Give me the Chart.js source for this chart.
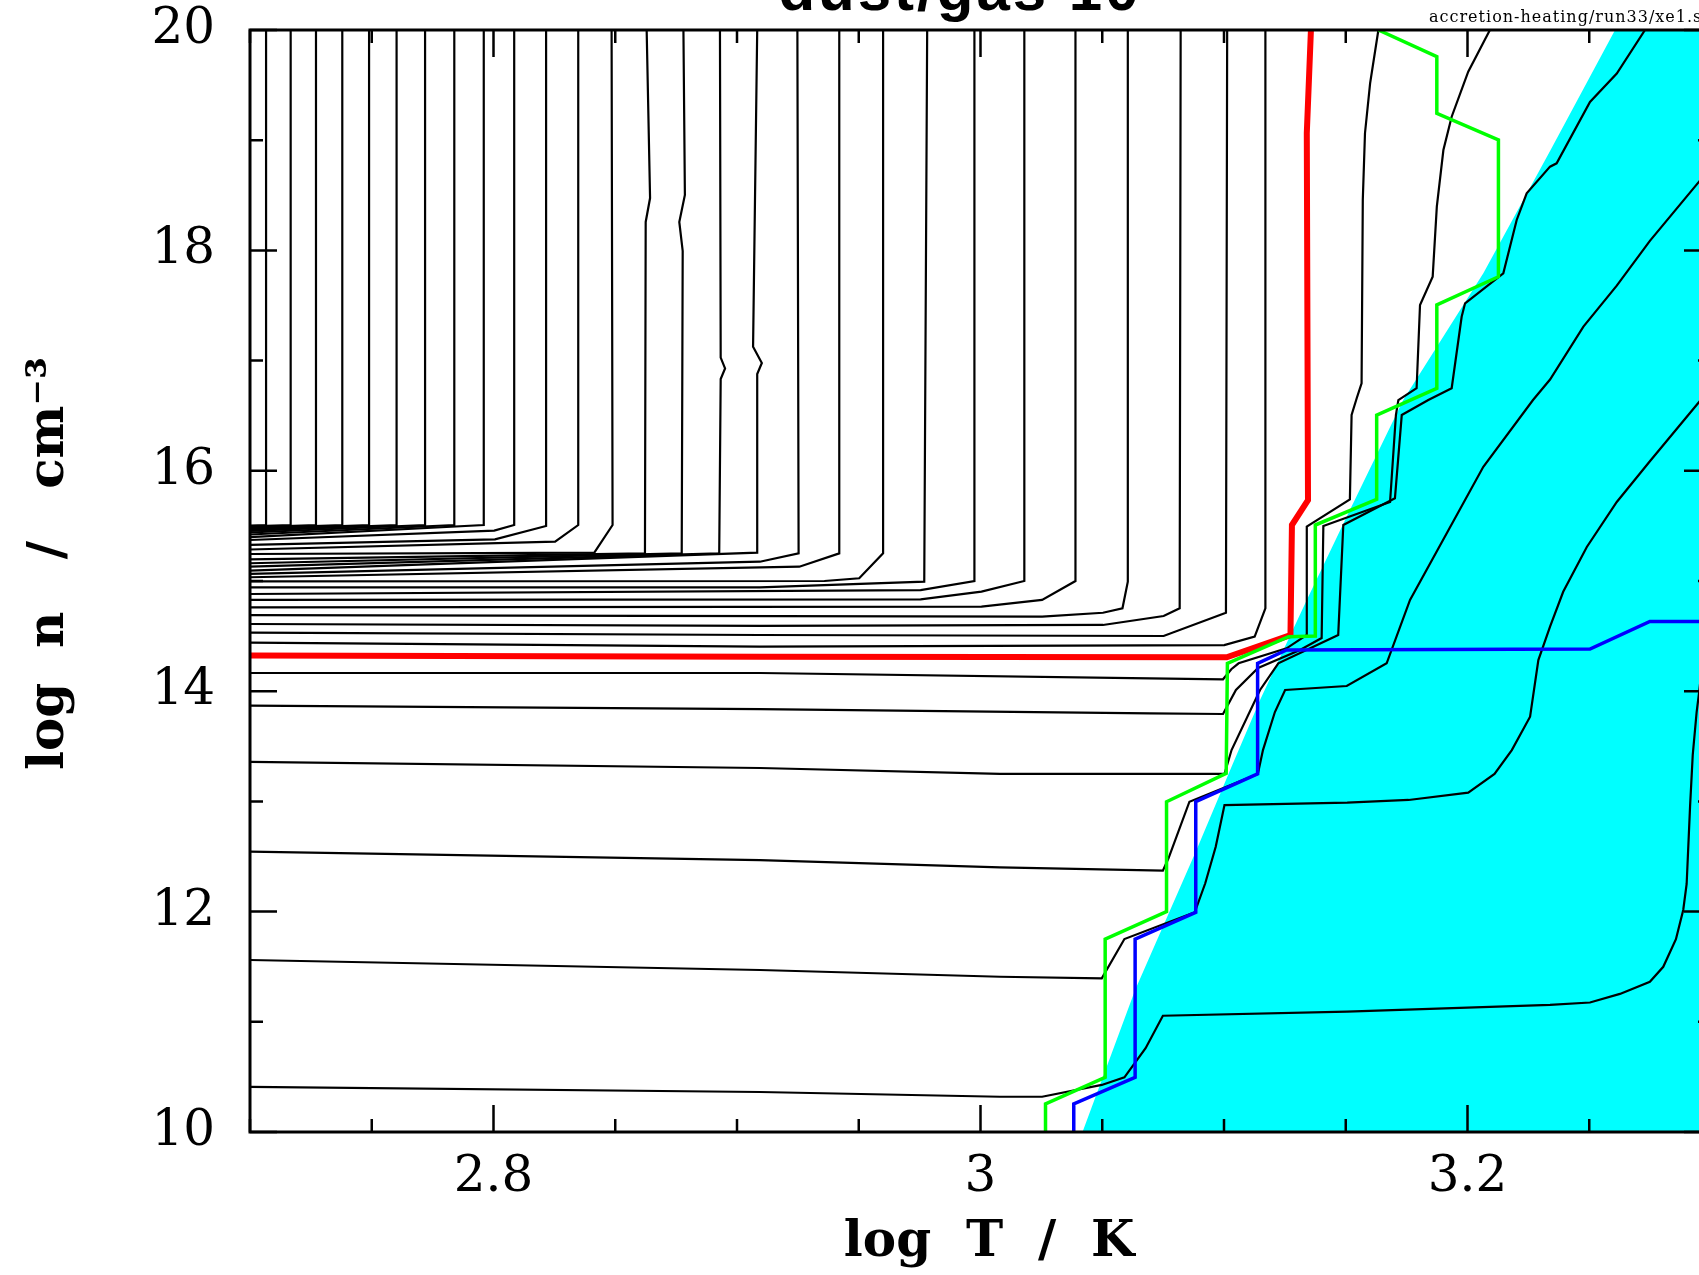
<!DOCTYPE html>
<html>
<head>
<meta charset="utf-8">
<title>dust/gas 10</title>
<script src="https://cdn.jsdelivr.net/npm/chart.js@4.4.1/dist/chart.umd.min.js"></script>
<style>
  html, body { margin: 0; padding: 0; background: #fff; overflow: hidden; }
  #wrap { width: 1699px; height: 1275px; overflow: hidden; position: relative; }
  #chart { position: absolute; left: 0; top: 0; }
</style>
</head>
<body>
<div id="wrap"><canvas id="chart" width="1760" height="1275"></canvas></div>
<script>
// axes
const xRange = [2.7, 3.3];
const yRange = [10, 20];
const xMinorStep = 0.05;
const yMinorStep = 1;
const xLabelTicks = [2.8, 3, 3.2];
const yLabelTicks = [10, 12, 14, 16, 18, 20];
const titleText = 'dust/gas 10';
const fileText = 'accretion-heating/run33/xe1.sm';
const xTitle = ' log  T  /  K';
const yTitle = '  log  n   /   cm\u207B\u00B3';

// black contours that come down from the top and bend to the left edge  [log T, log n]
const upperContours = [
  [[2.7066, 20], [2.7066, 15.508], [2.7, 15.503]],
  [[2.7167, 20], [2.7167, 15.508], [2.7, 15.496]],
  [[2.7271, 20], [2.7271, 15.508], [2.7, 15.487]],
  [[2.7379, 20], [2.7379, 15.508], [2.7, 15.478]],
  [[2.7489, 20], [2.7489, 15.508], [2.7, 15.467]],
  [[2.7602, 20], [2.7602, 15.508], [2.7, 15.454]],
  [[2.7719, 20], [2.7719, 15.508], [2.7, 15.440]],
  [[2.7839, 20], [2.7839, 15.508], [2.7, 15.422]],
  [[2.7960, 20], [2.7960, 15.508], [2.7, 15.399]],
  [[2.8085, 20], [2.8085, 15.508], [2.8003, 15.457], [2.7, 15.372]],
  [[2.8216, 20], [2.8216, 15.499], [2.8006, 15.378], [2.7, 15.327]],
  [[2.8348, 20], [2.8348, 15.508], [2.8253, 15.357], [2.7, 15.286]],
  [[2.8485, 20], [2.8489, 15.508], [2.8414, 15.257], [2.7, 15.245]],
  [[2.8629, 20], [2.8643, 18.475], [2.8625, 18.258], [2.8622, 15.251], [2.7, 15.197]],
  [[2.8780, 20], [2.8786, 18.503], [2.8763, 18.258], [2.8777, 17.995], [2.8773, 15.251], [2.7, 15.161]],
  [[2.8930, 20], [2.8933, 17.027], [2.8951, 16.929], [2.8933, 16.833], [2.8927, 15.251], [2.7, 15.130]],
  [[2.9083, 20], [2.9066, 17.126], [2.9102, 16.978], [2.9083, 16.878], [2.9083, 15.257], [2.7, 15.094]],
  [[2.9248, 20], [2.9253, 15.251], [2.9094, 15.175], [2.7, 15.064]],
  [[2.9420, 20], [2.9420, 15.251], [2.9256, 15.130], [2.7, 15.034]],
  [[2.9600, 20], [2.9600, 15.251], [2.9502, 15.025], [2.9359, 15.000], [2.7, 14.997]],
  [[2.9781, 20], [2.9769, 14.994], [2.9094, 14.943], [2.7, 14.943]],
  [[2.9975, 20], [2.9975, 15.000], [2.9754, 14.918], [2.7, 14.882]],
  [[3.0180, 20], [3.0180, 15.000], [3.0004, 14.903], [2.9754, 14.834], [2.7, 14.828]],
  [[3.0390, 20], [3.0390, 15.000], [3.0253, 14.828], [3.0004, 14.767], [2.7, 14.761]],
  [[3.0605, 20], [3.0605, 14.994], [3.0583, 14.752], [3.0503, 14.712], [3.0253, 14.676], [2.7, 14.691]],
  [[3.0822, 20], [3.0818, 14.752], [3.0752, 14.682], [3.0503, 14.601], [2.9094, 14.592], [2.7, 14.610]],
  [[3.1013, 20], [3.1008, 14.712], [3.0752, 14.501], [2.9094, 14.510], [2.7, 14.531]],
  [[3.1170, 20], [3.1170, 14.752], [3.1126, 14.495], [3.1001, 14.419], [2.9094, 14.404], [2.7, 14.440]]
];

// thick red contour
const redContour = [[3.1357, 20], [3.1340, 19.065], [3.1345, 15.735], [3.1279, 15.508], [3.1273, 14.510],
  [3.1011, 14.308], [2.9094, 14.313], [2.7, 14.323]];

// black contours below the red one, rising through the cyan zone
const lowerContours = [
  [[2.7, 14.165], [2.9094, 14.165], [3.0696, 14.117], [3.0996, 14.108], [3.1030, 14.199], [3.1060, 14.253],
   [3.1257, 14.389], [3.1340, 14.510], [3.1340, 15.493], [3.1517, 15.741], [3.1524, 16.506], [3.1545, 16.658],
   [3.1565, 16.794], [3.1570, 18.457], [3.1579, 19.063], [3.1600, 19.516], [3.1634, 20]],
  [[2.7, 13.870], [2.9094, 13.838], [3.0696, 13.799], [3.0996, 13.793], [3.1049, 14.011], [3.1140, 14.211],
   [3.1312, 14.374], [3.1401, 14.483], [3.1408, 15.499], [3.1682, 15.717], [3.1706, 16.506], [3.1716, 16.642],
   [3.1791, 16.749], [3.1805, 17.505], [3.1857, 17.761], [3.1874, 18.397], [3.1901, 18.911], [3.1935, 19.213],
   [3.2003, 19.622], [3.2092, 20]],
  [[2.7, 13.358], [2.9094, 13.303], [3.0080, 13.249], [3.1002, 13.249], [3.1031, 13.466], [3.1148, 14.011],
   [3.1223, 14.253], [3.1469, 14.510], [3.1490, 15.508], [3.1702, 15.750], [3.1730, 16.506], [3.1839, 16.642],
   [3.1935, 16.749], [3.1976, 17.398], [3.1990, 17.520], [3.2147, 17.792], [3.2202, 18.276], [3.2243, 18.518],
   [3.2339, 18.760], [3.2366, 18.790], [3.2503, 19.347], [3.2613, 19.605], [3.2729, 20]],
  [[2.7, 12.544], [2.9094, 12.468], [3.0080, 12.402], [3.0749, 12.371], [3.0772, 12.484], [3.0858, 12.997],
   [3.1139, 13.249], [3.1160, 13.466], [3.1209, 13.811], [3.1251, 14.011], [3.1504, 14.047], [3.1668, 14.253],
   [3.1764, 14.828], [3.2065, 16.037], [3.2269, 16.642], [3.2339, 16.828], [3.2476, 17.309], [3.2613, 17.680],
   [3.2749, 18.087], [3.2951, 18.624], [3.3, 18.757]],
  [[2.7, 11.561], [2.9094, 11.470], [3.0080, 11.409], [3.0498, 11.395], [3.0591, 11.751], [3.0880, 11.994],
   [3.0923, 12.257], [3.0966, 12.589], [3.1002, 12.967], [3.1506, 12.988], [3.1758, 13.013], [3.2003, 13.079],
   [3.2111, 13.249], [3.2182, 13.466], [3.2257, 13.769], [3.2291, 14.283], [3.2339, 14.585], [3.2393, 14.902],
   [3.2490, 15.309], [3.2613, 15.717], [3.2749, 16.087], [3.2951, 16.624], [3.3, 16.751]],
  [[2.7, 10.409], [2.9094, 10.363], [3.0080, 10.320], [3.0253, 10.320], [3.0498, 10.427], [3.0591, 10.496],
   [3.0678, 10.760], [3.0749, 11.055], [3.1505, 11.092], [3.2339, 11.153], [3.2503, 11.175], [3.2626, 11.253],
   [3.2749, 11.363], [3.2804, 11.499], [3.2856, 11.750], [3.2886, 12.015], [3.2900, 12.251], [3.2914, 12.953],
   [3.2925, 13.421], [3.2941, 13.811], [3.2951, 13.987], [3.2975, 14.465]]
];

// green and blue staircases
const greenStep = [[3.0267, 10], [3.0267, 10.254], [3.0512, 10.496], [3.0512, 11.751], [3.0764, 11.999],
  [3.0764, 12.997], [3.1009, 13.255], [3.1014, 14.253], [3.1265, 14.495], [3.1375, 14.501], [3.1375, 15.508],
  [3.1627, 15.741], [3.1627, 16.506], [3.1874, 16.749], [3.1874, 17.505], [3.2127, 17.761], [3.2127, 19.002],
  [3.1874, 19.244], [3.1874, 19.758], [3.1634, 20]];
const blueStep = [[3.0383, 10], [3.0383, 10.254], [3.0635, 10.496], [3.0635, 11.751], [3.0884, 11.994],
  [3.0884, 12.997], [3.1138, 13.249], [3.1138, 14.253], [3.1257, 14.374], [3.2503, 14.383], [3.2749, 14.633],
  [3.3, 14.633]];

// left edge of the cyan region (filled down to the bottom axis)
const cyanEdge = [[3.0419, 10], [3.0635, 11.289], [3.0887, 12.559], [3.1031, 13.315], [3.1148, 13.920],
  [3.1340, 14.828], [3.1517, 15.644], [3.1736, 16.642], [3.2065, 17.792], [3.2339, 18.902], [3.2606, 20], [3.3, 20]];

function lineSet(data, color, width, order) {
  return { data, borderColor: color, borderWidth: width, pointRadius: 0, tension: 0, fill: false, order };
}

function labelFor(v, list) {
  const hit = list.find(t => Math.abs(t - v) < 1e-6);
  return hit === undefined ? '' : String(hit);
}

const datasets = [];
datasets.push({ data: cyanEdge, borderWidth: 0, borderColor: 'rgba(0,0,0,0)', backgroundColor: '#00ffff',
  fill: 'start', pointRadius: 0, tension: 0, order: 3 });
upperContours.forEach(c => datasets.push(lineSet(c, '#000000', 2.2, 2)));
lowerContours.forEach(c => datasets.push(lineSet(c, '#000000', 2.2, 2)));
datasets.push(lineSet(redContour, '#ff0000', 6, 1));
datasets.push(lineSet(greenStep, '#00ff00', 3.5, 0));
datasets.push(lineSet(blueStep, '#0000ff', 3.5, 0));

// frame, inward ticks and the texts above the plot
const frameTicks = {
  id: 'frameTicks',
  afterDraw(chart) {
    const { ctx, chartArea: a, scales } = chart;
    ctx.save();
    ctx.strokeStyle = '#000';
    ctx.lineWidth = 2.5;
    ctx.beginPath();
    scales.x.ticks.forEach(t => {
      const p = scales.x.getPixelForValue(t.value);
      const len = t.label ? 27 : 13;
      ctx.moveTo(p, a.bottom); ctx.lineTo(p, a.bottom - len);
      ctx.moveTo(p, a.top); ctx.lineTo(p, a.top + len);
    });
    scales.y.ticks.forEach(t => {
      const p = scales.y.getPixelForValue(t.value);
      const len = t.label ? 27 : 13;
      ctx.moveTo(a.left, p); ctx.lineTo(a.left + len, p);
      ctx.moveTo(a.right, p); ctx.lineTo(a.right - len, p);
    });
    ctx.stroke();
    ctx.lineWidth = 3;
    ctx.strokeRect(a.left, a.top, a.right - a.left, a.bottom - a.top);

    ctx.fillStyle = '#000';
    ctx.textBaseline = 'alphabetic';
    ctx.textAlign = 'center';
    ctx.font = 'bold 60px "Liberation Sans"';
    ctx.letterSpacing = '3px';
    ctx.fillText(titleText, 960, 10);
    ctx.textAlign = 'left';
    ctx.font = '16px "DejaVu Serif"';
    ctx.letterSpacing = '1px';
    ctx.fillText(fileText, 1429, 22);
    ctx.letterSpacing = '0px';
    ctx.restore();
  }
};

new Chart(document.getElementById('chart'), {
  type: 'line',
  data: { datasets },
  options: {
    responsive: false,
    animation: false,
    events: [],
    layout: { padding: { top: 30, right: 49, bottom: 0, left: 0 } },
    plugins: { legend: { display: false }, tooltip: { enabled: false }, title: { display: false } },
    scales: {
      x: {
        type: 'linear', min: xRange[0], max: xRange[1],
        grid: { display: false, drawTicks: false, tickLength: 0 },
        border: { display: false },
        ticks: {
          stepSize: xMinorStep, autoSkip: false, maxRotation: 0, padding: 16, color: '#000',
          font: { family: 'DejaVu Serif', size: 50, lineHeight: 1.2 },
          callback: v => labelFor(v, xLabelTicks)
        },
        title: {
          display: true, text: xTitle, color: '#000',
          font: { family: 'DejaVu Serif', size: 50, weight: 'bold', lineHeight: 1.2 },
          padding: { top: 0, bottom: 2 }
        },
        afterFit: s => { s.height = 143; s.paddingLeft = 0; s.paddingRight = 0; }
      },
      y: {
        type: 'linear', min: yRange[0], max: yRange[1],
        grid: { display: false, drawTicks: false, tickLength: 0 },
        border: { display: false },
        ticks: {
          stepSize: yMinorStep, autoSkip: false, padding: 35, color: '#000',
          font: { family: 'DejaVu Serif', size: 50, lineHeight: 1.2 },
          callback: v => labelFor(v, yLabelTicks)
        },
        title: {
          display: true, text: yTitle, color: '#000',
          font: { family: 'DejaVu Serif', size: 50, weight: 'bold', lineHeight: 1.2 },
          padding: { top: 20, bottom: 0 }
        },
        afterFit: s => { s.width = 250; s.paddingTop = 0; s.paddingBottom = 0; }
      }
    }
  },
  plugins: [frameTicks]
});
</script>
</body>
</html>
